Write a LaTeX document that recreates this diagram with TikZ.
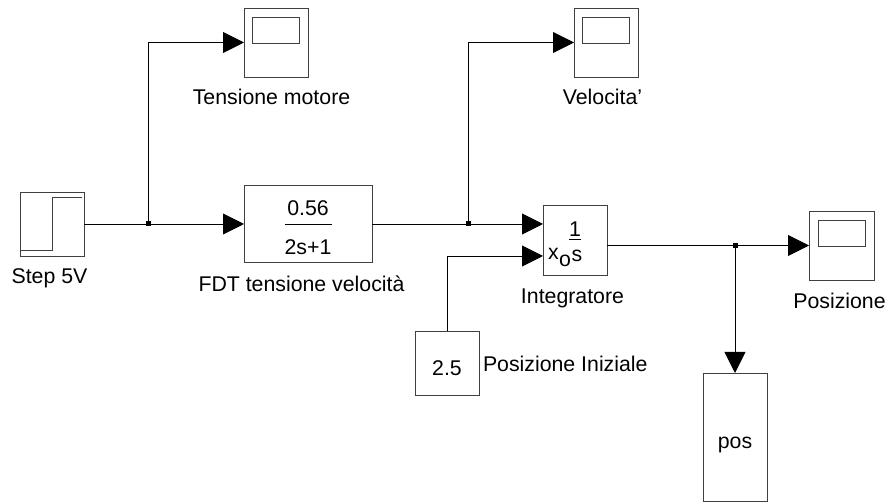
\documentclass[tikz,border=0pt]{standalone}
\usepackage{fontspec}
\setmainfont{Liberation Sans}
\usetikzlibrary{arrows.meta,positioning}

\begin{document}
\begin{tikzpicture}[
    x=1pt, y=1pt,
    font=\fontsize{21.3}{24}\selectfont,
    block/.style={draw=black!75, line width=0.9pt, inner sep=0pt, outer sep=0pt,
      minimum width=64pt, minimum height=64pt},
    scopebox/.style={block, minimum height=69pt},
    screen/.style={block, minimum width=47pt, minimum height=26pt},
    tag/.style={inner sep=0pt, outer sep=0pt},
    arrow/.style={-{Triangle[length=21pt,width=21pt]}, line width=0.9pt},
    wire/.style={line width=0.9pt},
    dot/.style={fill=black, inner sep=0pt, minimum size=5pt}
  ]
    \useasboundingbox (0,0) rectangle (889,502);
    \node[block] (step) at (52,278) {};
    \node[block, minimum width=128pt, minimum height=77pt, right=160pt of step] (fdt) {};
    \node[scopebox, anchor=south west] (motor) at (244,425) {};
    \node[scopebox, anchor=south west] (vel) at (574,425) {};
    \node[block, minimum height=70pt, anchor=south west] (integ) at (543,227) {};
    \node[scopebox, minimum width=65pt, anchor=south west] (pz) at (809,222) {};
    \node[block, anchor=south west] (init) at (415,107) {};
    \node[block, minimum height=128pt, anchor=south west] (pos) at (703,1) {};

    \node[screen, below=9pt of motor.north] (motorscreen) {};
    \node[screen, below=9pt of vel.north] (velscreen) {};
    \node[screen, below=9pt of pz.north] (pzscreen) {};

    \node[tag, below=13pt of step, xshift=-2.5pt] (steplabel) {Step 5V};
    \node[tag, below=13pt of fdt, xshift=-6.5pt] (fdtlabel) {FDT tensione velocità};
    \node[tag, below=12pt of motor, xshift=-4.5pt] (motorlabel) {Tensione motore};
    \node[tag, below=12pt of vel, xshift=-3.5pt] (vellabel) {Velocita'};
    \node[tag, below=14pt of integ, xshift=-2.5pt] (integlabel) {Integratore};
    \node[tag, below=13pt of pz, xshift=-2pt] (pzlabel) {Posizione};
    \node[tag, right=4pt of init, yshift=-1pt] (initlabel) {Posizione Iniziale};

    \node[tag] (gain) at ([yshift=16pt]fdt.center) {0.56};
    \node[tag] (den) at ([yshift=-23pt]fdt.center) {2s+1};
    \draw[wire] ([xshift=-23pt]fdt.center) -- ([xshift=24pt]fdt.center);
    \node[tag] (num) at (575,273) {1};
    \node[tag] (xo) at (553.5,248) {x};
    \node[tag] (zero) at (565,241) {o};
    \node[tag] (ess) at (577,246) {s};
    \draw[wire] (569,263) -- (581,263);
    \node[tag] (initval) at ([yshift=-5pt]init.center) {2.5};
    \node[tag] (posval) at ([yshift=-8pt]pos.center) {pos};

    \draw[black!75, line width=0.9pt] ([shift={(-31,-26)}]step.center)
      -- ([shift={(0,-26)}]step.center)
      -- ([shift={(0,27)}]step.center)
      -- ([shift={(30,27)}]step.center);

    \coordinate (j1) at (148,278);
    \coordinate (j2) at (468,278);
    \coordinate (j3) at (735,256);
    \draw[arrow] (step.east) -- (fdt.west);
    \draw[arrow] (j1) |- (motor.west);
    \draw[arrow] (fdt.east) -- (integ.west |- fdt.east);
    \draw[arrow] (j2) |- (vel.west);
    \draw[arrow] (integ.east |- pz.west) -- (pz.west);
    \draw[arrow] (j3) -- (pos.north);
    \draw[arrow] (init.north) |- (integ.west |- 0,246);
    \node[dot] (d1) at (j1) {};
    \node[dot] (d2) at (j2) {};
    \node[dot] (d3) at (j3) {};
  \end{tikzpicture}
\end{document}
